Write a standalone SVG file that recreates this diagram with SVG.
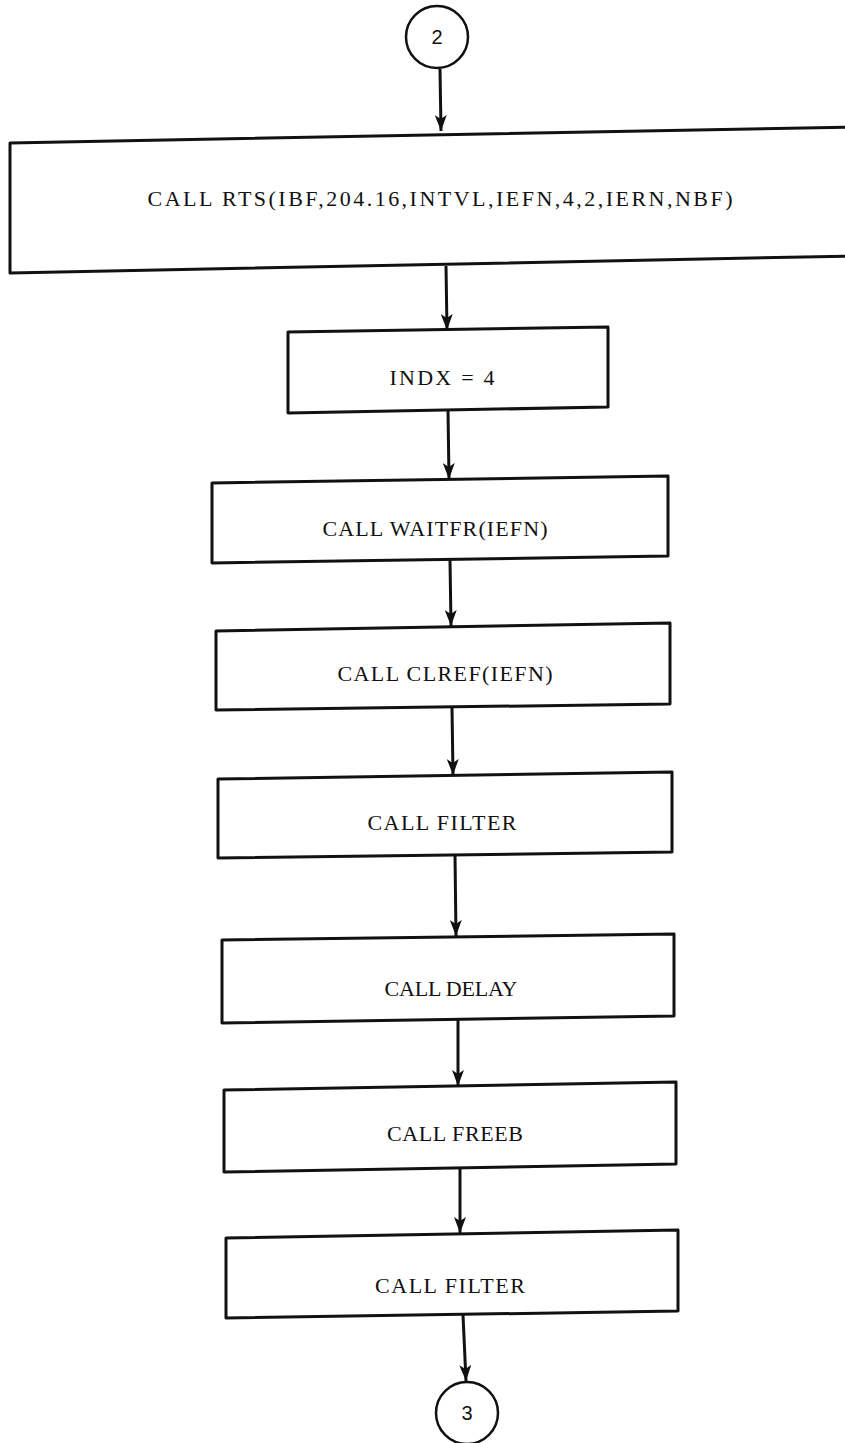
<svg xmlns="http://www.w3.org/2000/svg" width="845" height="1443" viewBox="0 0 845 1443">
<style>
.box{fill:none;stroke:#111;stroke-width:3;stroke-linejoin:round}
.circ{fill:#fff;stroke:#111;stroke-width:2.5}
.lbl{font-family:"Liberation Serif",serif;font-size:22px;fill:#111;text-anchor:middle}
.num{font-family:"Liberation Sans",sans-serif;font-size:20px;fill:#111;text-anchor:middle}
.conn{stroke:#111;stroke-width:3;fill:none}
</style>
<defs>
<marker id="ah" markerUnits="userSpaceOnUse" markerWidth="18" markerHeight="12" refX="16" refY="6" orient="auto" viewBox="0 0 18 12">
<path d="M0,0 L16,6 L0,12 L4,6 Z" fill="#111"/>
</marker>
</defs>
<rect width="845" height="1443" fill="#fff"/>
<g id="connectors">
<line class="conn" x1="440" y1="69" x2="441" y2="131" marker-end="url(#ah)"/>
<line class="conn" x1="446" y1="266" x2="447" y2="330" marker-end="url(#ah)"/>
<line class="conn" x1="448" y1="410" x2="449" y2="479" marker-end="url(#ah)"/>
<line class="conn" x1="450" y1="560" x2="451" y2="626" marker-end="url(#ah)"/>
<line class="conn" x1="452" y1="707" x2="453" y2="775" marker-end="url(#ah)"/>
<line class="conn" x1="455" y1="855" x2="456" y2="936" marker-end="url(#ah)"/>
<line class="conn" x1="458" y1="1019" x2="458" y2="1086" marker-end="url(#ah)"/>
<line class="conn" x1="460" y1="1168" x2="460" y2="1233" marker-end="url(#ah)"/>
<line class="conn" x1="463" y1="1315" x2="466" y2="1381" marker-end="url(#ah)"/>
</g>
<g id="c2">
<circle class="circ" cx="437" cy="37" r="31"/>
<text class="num" x="437" y="44">2</text>
</g>
<g id="rts">
<path class="box" d="M852,127 L10,143 L10,273 L852,256"/>
<text class="lbl" x="440" y="206" textLength="585">CALL RTS(IBF,204.16,INTVL,IEFN,4,2,IERN,NBF)</text>
</g>
<g id="indx">
<path class="box" d="M288,332 L608,327 L608,407 L288,413 Z"/>
<text class="lbl" x="442" y="385" textLength="105">INDX = 4</text>
</g>
<g id="waitfr">
<path class="box" d="M212,483 L668,476 L668,556 L212,563 Z"/>
<text class="lbl" x="435" y="536" textLength="225">CALL WAITFR(IEFN)</text>
</g>
<g id="clref">
<path class="box" d="M216,631 L670,623 L670,704 L216,710 Z"/>
<text class="lbl" x="445" y="681" textLength="215">CALL CLREF(IEFN)</text>
</g>
<g id="filter1">
<path class="box" d="M218,779 L672,772 L672,852 L218,858 Z"/>
<text class="lbl" x="442" y="830" textLength="149">CALL FILTER</text>
</g>
<g id="delay">
<path class="box" d="M222,940 L674,934 L674,1016 L222,1023 Z"/>
<text class="lbl" x="451" y="996" textLength="133">CALL DELAY</text>
</g>
<g id="freeb">
<path class="box" d="M224,1090 L676,1082 L676,1164 L224,1172 Z"/>
<text class="lbl" x="455" y="1141" textLength="136">CALL FREEB</text>
</g>
<g id="filter2">
<path class="box" d="M226,1238 L678,1230 L678,1311 L226,1318 Z"/>
<text class="lbl" x="450" y="1293" textLength="150">CALL FILTER</text>
</g>
<g id="c3">
<circle class="circ" cx="467" cy="1413" r="31"/>
<text class="num" x="467" y="1420">3</text>
</g>
</svg>
